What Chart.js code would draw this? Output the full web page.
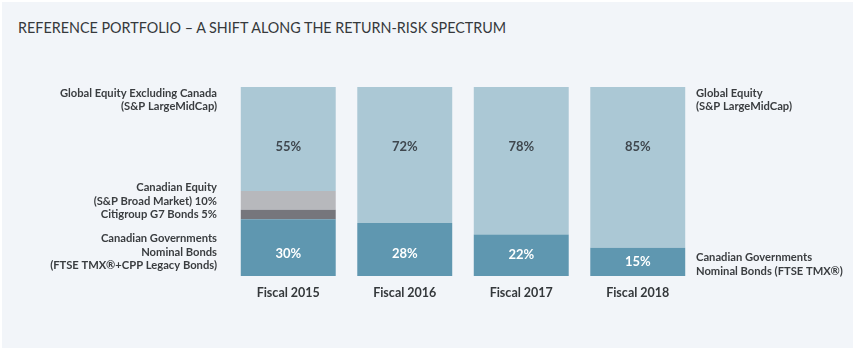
<!DOCTYPE html>
<html>
<head>
<meta charset="utf-8">
<script src="https://cdn.jsdelivr.net/npm/chart.js@4"></script>
<style>
  html, body { margin:0; padding:0; background:#ffffff; }
  #wrap { position:relative; width:862px; height:351px; overflow:hidden; }
  #panel { position:absolute; left:2px; top:2px; width:851px; height:346px; background:#f2f5f9; }
  #title { position:absolute; left:18px; top:19px; font-family:Lato, "Open Sans", sans-serif; font-size:14.35px; color:#36393c; white-space:nowrap; }
  #c { position:absolute; left:0; top:0; }
</style>
</head>
<body>
<div id="wrap">
  <div id="panel"></div>
  <div id="title">REFERENCE PORTFOLIO – A SHIFT ALONG THE RETURN-RISK SPECTRUM</div>
  <canvas id="c" width="862" height="351"></canvas>
</div>
<script>
// ---- data ----
const categories = ["Fiscal 2015", "Fiscal 2016", "Fiscal 2017", "Fiscal 2018"];
const nominalBonds = [30, 28, 22, 15];
const g7Bonds = [5, 0, 0, 0];
const canadianEquity = [10, 0, 0, 0];
const globalEquity = [55, 72, 78, 85];

const leftLabelTop = ["Global Equity Excluding Canada", "(S&P LargeMidCap)"];
const leftLabelMid = ["Canadian Equity", "(S&P Broad Market) 10%", "Citigroup G7 Bonds 5%"];
const leftLabelBottom = ["Canadian Governments", "Nominal Bonds", "(FTSE TMX®+CPP Legacy Bonds)"];
const rightLabelTop = ["Global Equity", "(S&P LargeMidCap)"];
const rightLabelBottom = ["Canadian Governments", "Nominal Bonds (FTSE TMX®)"];

const FONT = 'Lato, "Open Sans", sans-serif';
const LINE_H = 13.6;

const sidePlugin = {
  id: 'sideLabels',
  afterDatasetsDraw(chart) {
    const ctx = chart.ctx;
    const y = chart.scales.y;
    const area = chart.chartArea;
    ctx.save();
    ctx.textBaseline = 'middle';
    ctx.font = 'bold 11.2px ' + FONT;
    ctx.fillStyle = '#3a3d40';

    function block(lines, x, firstY, align) {
      ctx.textAlign = align;
      lines.forEach((t, i) => ctx.fillText(t, x, firstY + i * LINE_H));
    }
    const lx = area.left - 13;
    const rx = area.right;
    block(leftLabelTop, lx, y.getPixelForValue(100) + 6, 'right');
    const g7Centre = y.getPixelForValue(nominalBonds[0] + g7Bonds[0] / 2);
    block(leftLabelMid, lx, g7Centre - (leftLabelMid.length - 1) * LINE_H, 'right');
    const bondMid = y.getPixelForValue(nominalBonds[0] * 0.393);
    block(leftLabelBottom, lx, bondMid - LINE_H - 1.5, 'right');
    block(rightLabelTop, rx, y.getPixelForValue(100) + 6, 'left');
    const n = nominalBonds.length - 1;
    const rb = y.getPixelForValue(nominalBonds[n] / 2) + 3;
    block(rightLabelBottom, rx, rb - LINE_H / 2 - 0.5, 'left');

    ctx.textAlign = 'center';
    ctx.font = 'bold 13px ' + FONT;
    const meta0 = chart.getDatasetMeta(0);
    const meta3 = chart.getDatasetMeta(3);
    categories.forEach((c, i) => {
      ctx.fillStyle = '#3f474e';
      ctx.fillText(globalEquity[i] + '%', meta3.data[i].x, y.getPixelForValue(68.4));
      ctx.fillStyle = '#ffffff';
      const bv = Math.min(11.8, nominalBonds[i] / 2);
      ctx.fillText(nominalBonds[i] + '%', meta0.data[i].x, y.getPixelForValue(bv));
    });
    ctx.restore();
  }
};

new Chart(document.getElementById('c'), {
  type: 'bar',
  data: {
    labels: categories,
    datasets: [
      { label: 'Canadian Governments Nominal Bonds', data: nominalBonds, backgroundColor: '#5f97b0' },
      { label: 'Citigroup G7 Bonds', data: g7Bonds, backgroundColor: '#76767c' },
      { label: 'Canadian Equity', data: canadianEquity, backgroundColor: '#b7b8bc' },
      { label: 'Global Equity', data: globalEquity, backgroundColor: '#abc8d5' }
    ]
  },
  options: {
    responsive: false,
    animation: false,
    devicePixelRatio: 1,
    layout: { padding: { left: 230, right: 166, top: 87, bottom: 42 } },
    datasets: { bar: { categoryPercentage: 0.815, barPercentage: 1, borderWidth: 0 } },
    plugins: { legend: { display: false }, tooltip: { enabled: false }, title: { display: false } },
    scales: {
      x: {
        stacked: true,
        grid: { display: false, drawTicks: false },
        border: { display: false },
        ticks: { color: '#34383b', font: { family: FONT, size: 12.5, weight: 'bold' }, padding: 9 }
      },
      y: {
        stacked: true,
        display: false,
        min: 0, max: 100
      }
    }
  },
  plugins: [sidePlugin]
});
</script>
</body>
</html>
